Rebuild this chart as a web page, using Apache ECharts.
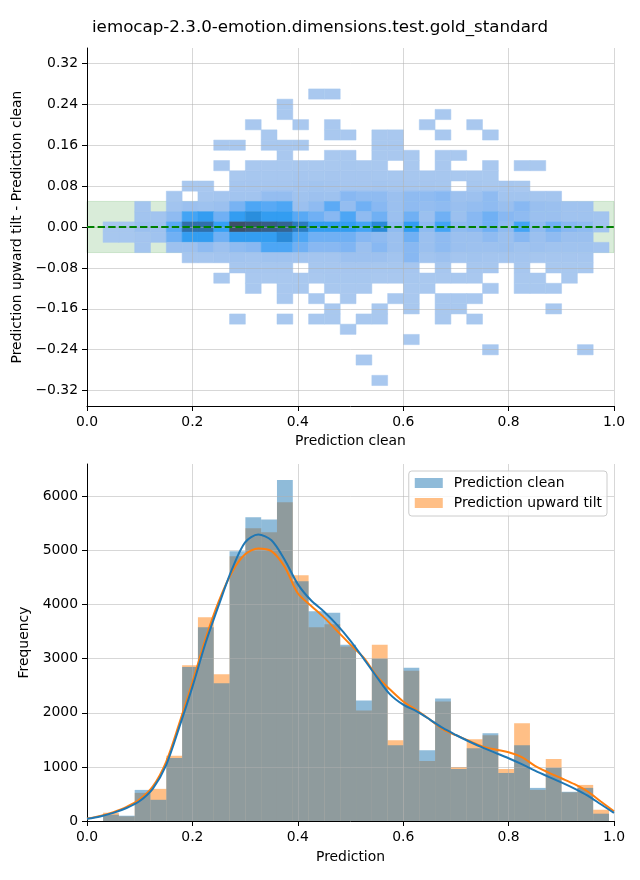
<!DOCTYPE html>
<html>
<head>
<meta charset="utf-8">
<script src="https://cdn.jsdelivr.net/npm/echarts@6/dist/echarts.min.js"></script>
<style>html,body{margin:0;padding:0;background:#fff}#c{width:640px;height:880px}</style>
</head>
<body>
<div id="c"></div>
<script>
// ---------- DATA ----------
const titleText = 'iemocap-2.3.0-emotion.dimensions.test.gold_standard';

// shared bin edges (x) for both the 2-D histogram and the 1-D histograms
const binEdges = [0.0305, 0.0605, 0.0905, 0.1205, 0.1505, 0.1805, 0.2105, 0.2405, 0.2705, 0.3005,
  0.3305, 0.3605, 0.3905, 0.4205, 0.4505, 0.4805, 0.5105, 0.5405, 0.5705, 0.6005,
  0.6305, 0.6605, 0.6905, 0.7205, 0.7505, 0.7805, 0.8105, 0.8405, 0.8705, 0.9005,
  0.9305, 0.9605, 0.9905];

// y bin edges of the 2-D histogram, top to bottom
const heatYEdges = [0.27, 0.25, 0.23, 0.21, 0.19, 0.17, 0.15, 0.13, 0.11, 0.09, 0.07, 0.05, 0.03, 0.01,
  -0.01, -0.03, -0.05, -0.07, -0.09, -0.11, -0.13, -0.15, -0.17, -0.19, -0.21, -0.23, -0.25, -0.27, -0.29, -0.31];

// relative counts of each 2-D cell (row = y bin from top, column = x bin)
const heatCounts = [
  [0,0,0,0,0,0,0,0, 0,0,0,0,0,1,1,0, 0,0,0,0,0,0,0,0, 0,0,0,0,0,0,0,0],
  [0,0,0,0,0,0,0,0, 0,0,0,1,0,0,0,0, 0,0,0,0,0,0,0,0, 0,0,0,0,0,0,0,0],
  [0,0,0,0,0,0,0,0, 0,0,0,1,0,0,0,0, 0,0,0,0,0,1,0,0, 0,0,0,0,0,0,0,0],
  [0,0,0,0,0,0,0,0, 0,1,0,0,1,0,1,0, 0,0,0,0,1,0,0,1, 0,0,0,0,0,0,0,0],
  [0,0,0,0,0,0,0,0, 0,0,1,0,0,0,1,1, 0,1,1,0,0,1,0,0, 1,0,0,0,0,0,0,0],
  [0,0,0,0,0,0,0,1, 1,0,1,1,1,0,0,0, 0,1,1,0,0,0,0,0, 0,0,0,0,0,0,0,0],
  [0,0,0,0,0,0,0,0, 0,0,0,1,0,0,1,1, 0,1,1,1,0,1,1,0, 0,0,0,0,0,0,0,0],
  [0,0,0,0,0,0,0,1, 0,1,1,1,1,1,1,2, 1,1,0,1,0,1,0,0, 1,0,1,1,0,0,0,0],
  [0,0,0,0,0,0,0,0, 1,2,2,2,3,2,3,3, 3,2,2,2,2,2,1,1, 1,0,0,0,0,0,0,0],
  [0,0,0,0,0,1,1,0, 3,3,3,3,4,5,4,3, 3,4,3,3,3,2,0,2, 1,2,1,0,0,0,0,0],
  [0,0,0,0,2,0,3,4, 5,5,12,12,6,8,7,17, 14,14,9,14,14,17,8,8, 14,5,5,4,4,0,0,0],
  [0,0,4,0,5,9,7,9, 22,33,30,33,9,14,29,12, 24,17,9,14,12,14,10,12, 14,10,17,10,9,6,6,0],
  [0,0,5,5,14,36,42,24, 42,52,42,42,30,24,17,33, 14,24,9,24,9,24,9,17, 24,17,14,9,9,6,6,5],
  [2,2,9,7,30,75,75,40, 100,95,90,85,66,42,42,42, 36,55,14,42,14,36,14,17, 24,14,36,14,24,17,14,5],
  [2,2,4,6,24,42,42,24, 42,42,42,55,33,24,24,24, 17,14,9,24,9,14,9,9, 14,9,17,9,14,9,9,0],
  [0,0,4,0,8,8,14,8, 14,17,33,33,24,17,17,20, 9,17,9,17,9,14,9,8, 8,9,6,8,6,6,6,4],
  [0,0,0,0,0,3,3,4, 5,4,6,6,5,4,4,8, 8,8,5,17,5,8,4,5, 4,4,4,3,3,3,3,0],
  [0,0,0,0,0,0,0,0, 2,2,2,2,0,2,2,3, 3,2,2,3,0,2,0,2, 2,0,2,0,1,1,1,0],
  [0,0,0,0,0,0,0,1, 0,1,1,1,1,1,2,2, 2,1,1,2,1,1,1,1, 0,0,1,1,0,1,0,0],
  [0,0,0,0,0,0,0,0, 0,1,0,1,1,0,1,1, 1,0,0,1,1,0,0,0, 1,0,1,1,1,0,0,0],
  [0,0,0,0,0,0,0,0, 0,0,0,1,0,1,0,1, 0,0,1,1,0,1,1,1, 0,0,0,0,0,0,0,0],
  [0,0,0,0,0,0,0,0, 0,0,0,0,0,0,1,0, 0,1,0,1,0,1,1,0, 0,0,0,0,1,0,0,0],
  [0,0,0,0,0,0,0,0, 1,0,0,1,0,1,1,0, 1,1,0,0,0,1,0,1, 0,0,0,0,0,0,0,0],
  [0,0,0,0,0,0,0,0, 0,0,0,0,0,0,0,1, 0,0,0,0,0,0,0,0, 0,0,0,0,0,0,0,0],
  [0,0,0,0,0,0,0,0, 0,0,0,0,0,0,0,0, 0,0,0,1,0,0,0,0, 0,0,0,0,0,0,0,0],
  [0,0,0,0,0,0,0,0, 0,0,0,0,0,0,0,0, 0,0,0,0,0,0,0,0, 1,0,0,0,0,0,1,0],
  [0,0,0,0,0,0,0,0, 0,0,0,0,0,0,0,0, 1,0,0,0,0,0,0,0, 0,0,0,0,0,0,0,0],
  [0,0,0,0,0,0,0,0, 0,0,0,0,0,0,0,0, 0,0,0,0,0,0,0,0, 0,0,0,0,0,0,0,0],
  [0,0,0,0,0,0,0,0, 0,0,0,0,0,0,0,0, 0,1,0,0,0,0,0,0, 0,0,0,0,0,0,0,0]
];

const toleranceBand = [-0.05, 0.05];
const zeroLineY = 0;

const topYTicks = [-0.32, -0.24, -0.16, -0.08, 0, 0.08, 0.16, 0.24, 0.32];
const bottomYTicks = [0, 1000, 2000, 3000, 4000, 5000, 6000];

// 1-D histogram counts per bin
const histClean = [116, 98, 575, 392, 1163, 2848, 3580, 2547, 4988, 5617, 5574, 6302, 4432, 3877, 3852, 3258,
  2229, 3000, 1402, 2835, 1310, 2266, 961, 1347, 1623, 888, 1402, 612, 980, 540, 612, 135];
const histTilt = [153, 86, 520, 594, 1206, 2878, 3765, 2713, 4895, 5414, 5340, 5895, 4543, 3580, 3636, 3227,
  2045, 3258, 1494, 2780, 1108, 2211, 998, 1513, 1586, 961, 1806, 576, 1145, 530, 667, 208];

// KDE curves (scaled to counts), read at these x positions
const kdeX = [0, 0.025, 0.05, 0.075, 0.1, 0.125, 0.15, 0.175, 0.2, 0.225, 0.25, 0.275, 0.3, 0.325, 0.35, 0.375,
  0.4, 0.425, 0.45, 0.475, 0.5, 0.525, 0.55, 0.575, 0.6, 0.625, 0.65, 0.675, 0.7, 0.725, 0.75, 0.775,
  0.8, 0.825, 0.85, 0.875, 0.9, 0.925, 0.95, 0.975, 1.0];
const kdeClean = [40, 85, 150, 240, 370, 600, 1030, 1730, 2480, 3290, 3990, 4650, 5150, 5295, 5190, 4830,
  4380, 4080, 3870, 3620, 3330, 3000, 2660, 2340, 2150, 2030, 1880, 1720, 1590, 1470, 1360, 1260,
  1160, 1050, 930, 820, 715, 600, 470, 310, 150];
const kdeTilt = [45, 95, 165, 260, 400, 640, 1090, 1800, 2560, 3370, 4060, 4600, 4930, 5040, 4990, 4700,
  4210, 3980, 3760, 3510, 3260, 3020, 2680, 2430, 2210, 2050, 1880, 1700, 1586, 1480, 1380, 1320,
  1270, 1180, 1020, 900, 790, 680, 545, 360, 180];

// ---------- CHART ----------
const FONT = 'DejaVu Sans';
const FS = 13.9;
const gridColor = 'rgba(176,176,176,0.5)';
const heatRamp = ['#abc9ef', '#99bfef', '#80b5f3', '#58a9f5', '#35a0f5', '#2a90e0', '#2a84cf', '#2d76b6', '#326aa0', '#385d84', '#3d5068'];

const heatData = [];
heatCounts.forEach((row, r) => row.forEach((c, i) => {
  if (c > 0) heatData.push([binEdges[i], binEdges[i + 1], heatYEdges[r + 1], heatYEdges[r], c]);
}));
const histCleanData = histClean.map((c, i) => [binEdges[i], binEdges[i + 1], c]);
const histTiltData = histTilt.map((c, i) => [binEdges[i], binEdges[i + 1], c]);
const kdeCleanData = kdeX.map((x, i) => [x, kdeClean[i]]);
const kdeTiltData = kdeX.map((x, i) => [x, kdeTilt[i]]);

function fmtTop(v) {
  const s = Math.abs(v).toFixed(2);
  return v < -1e-9 ? '\u2212' + s : s;
}

function axisBase(extra) {
  return Object.assign({
    type: 'value',
    axisLine: { show: true, onZero: false, lineStyle: { color: '#000', width: 1 } },
    axisTick: { show: true, inside: false, length: 5, lineStyle: { color: '#000', width: 1 } },
    axisLabel: { color: '#000', fontFamily: FONT, fontSize: FS, margin: 9 },
    splitLine: { show: true, lineStyle: { color: gridColor, width: 1 } },
    nameTextStyle: { color: '#000', fontFamily: FONT, fontSize: FS },
    nameLocation: 'middle',
    z: 2
  }, extra);
}

function heatRect(params, api) {
  const p0 = api.coord([api.value(0), api.value(3)]);
  const p1 = api.coord([api.value(1), api.value(2)]);
  const col = api.visual('color');
  return {
    type: 'rect',
    shape: { x: p0[0], y: p0[1], width: p1[0] - p0[0], height: p1[1] - p0[1] },
    style: { fill: col, stroke: col, lineWidth: 0.5 }
  };
}
function bandRect(params, api) {
  const p0 = api.coord([0, api.value(1)]);
  const p1 = api.coord([1, api.value(0)]);
  return {
    type: 'rect',
    shape: { x: p0[0], y: p0[1], width: p1[0] - p0[0], height: p1[1] - p0[1] },
    style: { fill: 'rgba(0,128,0,0.15)', stroke: 'rgba(0,128,0,0.15)', lineWidth: 1 }
  };
}
function histRect(color) {
  return function (params, api) {
    const p0 = api.coord([api.value(0), api.value(2)]);
    const p1 = api.coord([api.value(1), 0]);
    return {
      type: 'rect',
      shape: { x: p0[0], y: p0[1], width: p1[0] - p0[0], height: p1[1] - p0[1] },
      style: { fill: color }
    };
  };
}

const blueA = 'rgba(31,119,180,0.5)';
const orangeA = 'rgba(255,127,14,0.5)';

const chart = echarts.init(document.getElementById('c'), null, { renderer: 'canvas', width: 640, height: 880 });
chart.setOption({
  animation: false,
  backgroundColor: '#ffffff',
  textStyle: { fontFamily: FONT },
  title: {
    text: titleText, left: 'center', top: 19, padding: 0,
    textStyle: { fontFamily: FONT, fontSize: 16.7, fontWeight: 'normal', color: '#000' }
  },
  grid: [
    { left: 87, top: 48, width: 527, height: 358, containLabel: false },
    { left: 87, top: 464, width: 527, height: 357, containLabel: false }
  ],
  xAxis: [
    axisBase({ gridIndex: 0, min: 0, max: 1, interval: 0.2, name: 'Prediction clean', nameGap: 28,
      axisLabel: { color: '#000', fontFamily: FONT, fontSize: FS, margin: 9, formatter: v => v.toFixed(1) } }),
    axisBase({ gridIndex: 1, min: 0, max: 1, interval: 0.2, name: 'Prediction', nameGap: 29,
      axisLabel: { color: '#000', fontFamily: FONT, fontSize: FS, margin: 9, formatter: v => v.toFixed(1) } })
  ],
  yAxis: [
    axisBase({ gridIndex: 0, min: -0.35, max: 0.35, name: 'Prediction upward tilt - Prediction clean', nameGap: 52,
      axisTick: { show: true, inside: false, length: 5, lineStyle: { color: '#000', width: 1 }, customValues: topYTicks },
      axisLabel: { color: '#000', fontFamily: FONT, fontSize: FS, margin: 9, customValues: topYTicks, formatter: fmtTop } }),
    axisBase({ gridIndex: 1, min: 0, max: 6600, name: 'Frequency', nameGap: 45,
      axisTick: { show: true, inside: false, length: 5, lineStyle: { color: '#000', width: 1 }, customValues: bottomYTicks },
      axisLabel: { color: '#000', fontFamily: FONT, fontSize: FS, margin: 9, customValues: bottomYTicks, formatter: v => String(v) } })
  ],
  visualMap: {
    show: false, type: 'continuous', seriesIndex: 1, dimension: 4, min: 0, max: 100,
    inRange: { color: heatRamp }
  },
  legend: {
    data: [
      { name: 'Prediction clean', itemStyle: { color: blueA } },
      { name: 'Prediction upward tilt', itemStyle: { color: orangeA } }
    ],
    orient: 'vertical', right: 33, top: 471, itemWidth: 28, itemHeight: 10, itemGap: 6,
    padding: [5, 5, 6, 6], borderColor: '#cccccc', borderWidth: 1, borderRadius: 3,
    backgroundColor: 'rgba(255,255,255,0.8)', icon: 'rect', selectedMode: false,
    textStyle: { fontFamily: FONT, fontSize: FS, color: '#000', padding: [0, 0, 0, 6] }
  },
  series: [
    { type: 'custom', name: 'band', xAxisIndex: 0, yAxisIndex: 0, z: 0, renderItem: bandRect,
      data: [toleranceBand], silent: true },
    { type: 'custom', name: 'heat', xAxisIndex: 0, yAxisIndex: 0, z: 1, renderItem: heatRect,
      encode: { x: [0, 1], y: [2, 3] }, data: heatData, silent: true },
    { type: 'line', name: 'zero', xAxisIndex: 0, yAxisIndex: 0, z: 3, showSymbol: false, silent: true,
      data: [[0, zeroLineY], [1, zeroLineY]],
      lineStyle: { color: '#008000', width: 2, type: [7.4, 3.2] } },
    { type: 'custom', name: 'Prediction upward tilt', xAxisIndex: 1, yAxisIndex: 1, z: 1,
      renderItem: histRect(orangeA), itemStyle: { color: orangeA },
      encode: { x: [0, 1], y: 2 }, data: histTiltData, silent: true },
    { type: 'custom', name: 'Prediction clean', xAxisIndex: 1, yAxisIndex: 1, z: 1,
      renderItem: histRect(blueA), itemStyle: { color: blueA },
      encode: { x: [0, 1], y: 2 }, data: histCleanData, silent: true },
    { type: 'line', name: 'kde tilt', xAxisIndex: 1, yAxisIndex: 1, z: 3, showSymbol: false, smooth: 0.3,
      silent: true, data: kdeTiltData, lineStyle: { color: '#ff7f0e', width: 2 } },
    { type: 'line', name: 'kde clean', xAxisIndex: 1, yAxisIndex: 1, z: 3, showSymbol: false, smooth: 0.3,
      silent: true, data: kdeCleanData, lineStyle: { color: '#1f77b4', width: 2 } }
  ]
});
</script>
</body>
</html>
